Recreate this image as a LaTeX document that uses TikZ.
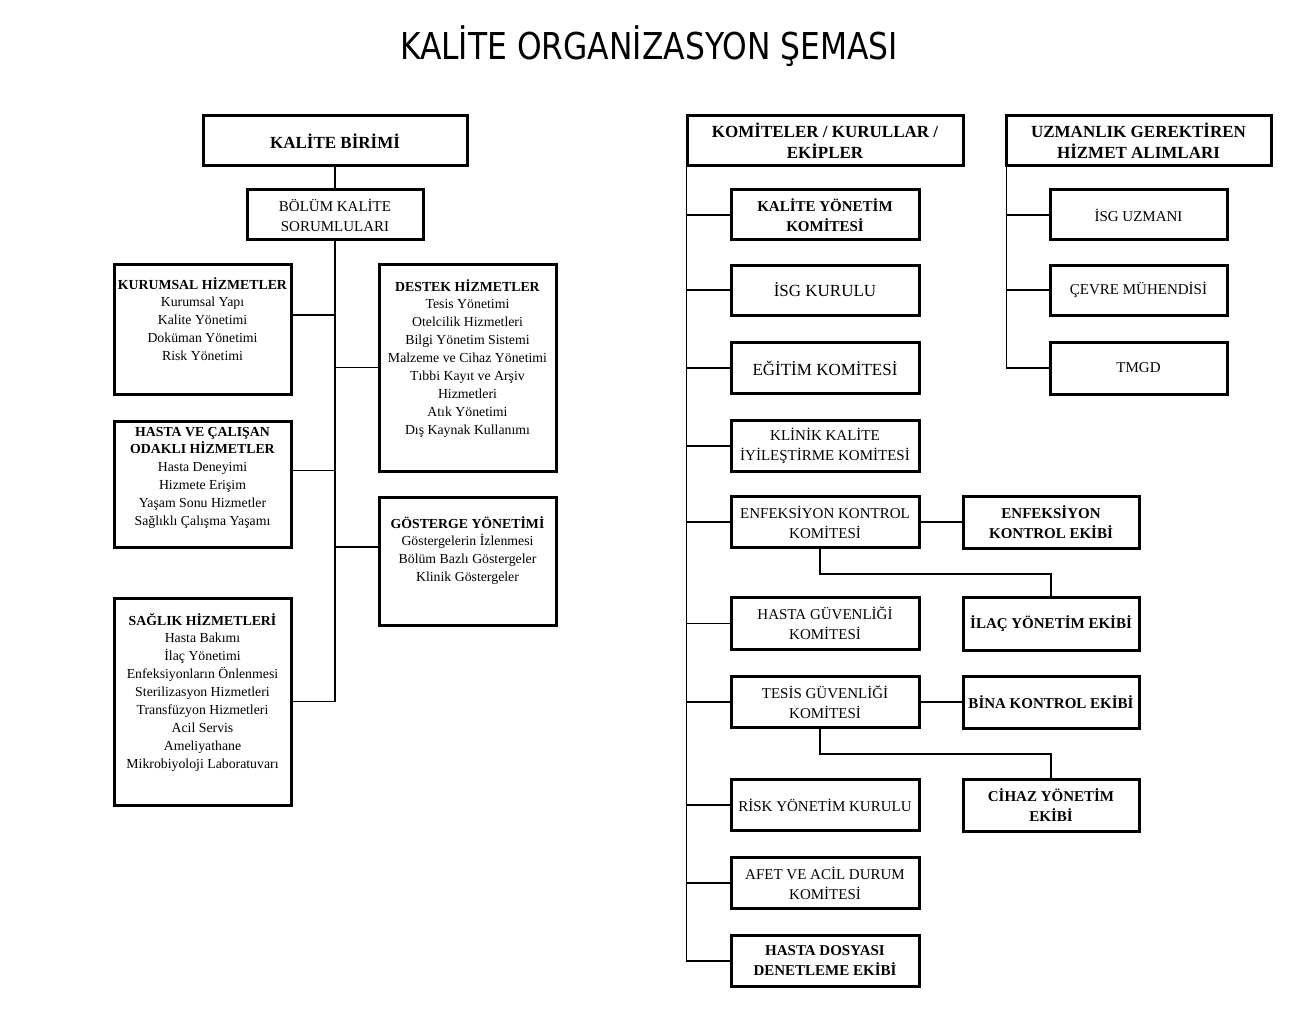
\documentclass[tikz,border=0pt]{standalone}
\usepackage{fontspec}
\usepackage{graphicx}
\setmainfont{Liberation Serif}
\newfontfamily\titlefont{DejaVu Sans}
\tikzset{
  bx/.style={draw, line width=3pt, inner sep=0pt, align=center},
  con/.style={line width=1.6pt},
  fa/.style={font=\fontsize{15}{20}\selectfont},
  fab/.style={font=\fontsize{15}{20}\selectfont\bfseries},
  fb/.style={font=\fontsize{17}{21}\selectfont},
  fbb/.style={font=\fontsize{17}{21}\selectfont\bfseries},
  fl/.style={font=\fontsize{13.8}{17.9}\selectfont},
  cbox/.style={bx, fa, minimum width=188, minimum height=51},
  tbox/.style={bx, fab, minimum width=176, minimum height=52},
  ubox/.style={bx, fa, minimum width=177, minimum height=51}
}
\newcommand{\ltext}[3]{\parbox[c][#1pt][t]{177pt}{\centering\rule{0pt}{#2pt}#3}}
\begin{document}
\begin{tikzpicture}[x=1pt,y=-1pt]
\useasboundingbox (0,0) rectangle (1300,1016);

% title
\node[anchor=base, inner sep=0pt] (title) at (649,60)
  {\resizebox{498pt}{\height}{\fontsize{37}{37}\titlefont KALİTE ORGANİZASYON ŞEMASI}};

% left column
\node[bx, fbb, minimum width=264, minimum height=50] (kb) at (335,141) {KALİTE BİRİMİ};
\node[bx, fa, minimum width=176, minimum height=50] (bks) at (335,215) {BÖLÜM KALİTE\\SORUMLULARI};

\node[bx, fl, minimum width=177, minimum height=130] (kur) at (202.5,329)
  {\ltext{130}{25}{\textbf{KURUMSAL HİZMETLER}\\Kurumsal Yapı\\Kalite Yönetimi\\Doküman Yönetimi\\Risk Yönetimi}};
\node[bx, fl, minimum width=177, minimum height=207] (des) at (467.5,367.5)
  {\ltext{207}{27}{\textbf{DESTEK HİZMETLER}\\Tesis Yönetimi\\Otelcilik Hizmetleri\\Bilgi Yönetim Sistemi\\Malzeme ve Cihaz Yönetimi\\Tıbbi Kayıt ve Arşiv\\Hizmetleri\\Atık Yönetimi\\Dış Kaynak Kullanımı}};
\node[bx, fl, minimum width=177, minimum height=126] (has) at (202.5,484)
  {\ltext{126}{15}{\textbf{HASTA VE ÇALIŞAN}\\\textbf{ODAKLI HİZMETLER}\\Hasta Deneyimi\\Hizmete Erişim\\Yaşam Sonu Hizmetler\\Sağlıklı Çalışma Yaşamı}};
\node[bx, fl, minimum width=177, minimum height=128] (gos) at (467.5,561)
  {\ltext{128}{31}{\textbf{GÖSTERGE YÖNETİMİ}\\Göstergelerin İzlenmesi\\Bölüm Bazlı Göstergeler\\Klinik Göstergeler}};
\node[bx, fl, minimum width=177, minimum height=207] (sag) at (202.5,701.5)
  {\ltext{207}{27}{\textbf{SAĞLIK HİZMETLERİ}\\Hasta Bakımı\\İlaç Yönetimi\\Enfeksiyonların Önlenmesi\\Sterilizasyon Hizmetleri\\Transfüzyon Hizmetleri\\Acil Servis\\Ameliyathane\\Mikrobiyoloji Laboratuvarı}};

% left connectors
\draw[con] (kb.south) -- (bks.north);
\coordinate (lv) at (bks.south);
\draw[con] (lv) -- (lv |- sag.east) -- (sag.east);
\coordinate (kurc) at ([yshift=14pt]kur.east);
\coordinate (hasc) at ([yshift=13.5pt]has.east);
\coordinate (gosc) at ([yshift=14pt]gos.west);
\draw[con] (kurc) -- (kurc -| lv);
\draw[con] (hasc) -- (hasc -| lv);
\draw[con] (des.west) -- (des.west -| lv);
\draw[con] (gosc) -- (gosc -| lv);

% committees column
\node[bx, fbb, minimum width=276, minimum height=50] (kom) at (825,141) {KOMİTELER / KURULLAR /\\EKİPLER};
\node[cbox, fab, minimum height=50] (kyk) at (825,215) {KALİTE YÖNETİM\\KOMİTESİ};
\node[cbox, fb, minimum height=50] (isg) at (825,290) {İSG KURULU};
\node[cbox, fb] (egt) at (825,368) {EĞİTİM KOMİTESİ};
\node[cbox] (kln) at (825,446) {KLİNİK KALİTE\\İYİLEŞTİRME KOMİTESİ};
\node[cbox] (enk) at (825,522) {ENFEKSİYON KONTROL\\KOMİTESİ};
\node[cbox, minimum height=52] (hgk) at (825,623.5) {HASTA GÜVENLİĞİ\\KOMİTESİ};
\node[cbox] (tgk) at (825,702) {TESİS GÜVENLİĞİ\\KOMİTESİ};
\node[cbox] (ryk) at (825,805) {RİSK YÖNETİM KURULU};
\node[cbox] (aak) at (825,883) {AFET VE ACİL DURUM\\KOMİTESİ};
\node[cbox, fab] (hdd) at (825,961) {HASTA DOSYASI\\DENETLEME EKİBİ};

% teams
\node[tbox] (enke) at (1051,522) {ENFEKSİYON\\KONTROL EKİBİ};
\node[tbox, minimum height=53] (ilac) at (1051,623.5) {İLAÇ YÖNETİM EKİBİ};
\node[tbox] (bina) at (1051,702) {BİNA KONTROL EKİBİ};
\node[tbox] (cihaz) at (1051,805) {CİHAZ YÖNETİM\\EKİBİ};

% committee connectors
\coordinate (kv) at ([xshift=1pt]kom.south west);
\draw[con] (kv) |- (hdd.west);
\foreach \n in {kyk,isg,egt,kln,enk,hgk,tgk,ryk,aak}
  \draw[con] (\n.west) -- (\n.west -| kv);
\draw[con] (enk.east) -- (enke.west);
\draw[con] ([xshift=-5pt]enk.south) -- ++(0,25) -| (ilac.north);
\draw[con] (tgk.east) -- (bina.west);
\draw[con] ([xshift=-5pt]tgk.south) -- ++(0,25) -| (cihaz.north);

% specialist services
\node[bx, fbb, minimum width=265, minimum height=50] (uzm) at (1138.5,141) {UZMANLIK GEREKTİREN\\HİZMET ALIMLARI};
\node[ubox, minimum height=50] (isgu) at (1138.5,215) {İSG UZMANI};
\node[ubox, minimum height=50] (cevre) at (1138.5,290) {ÇEVRE MÜHENDİSİ};
\node[ubox, minimum height=52] (tmgd) at (1138.5,368) {TMGD};
\coordinate (uv) at ([xshift=2pt]uzm.south west);
\draw[con] (uv) |- (tmgd.west);
\draw[con] (isgu.west) -- (isgu.west -| uv);
\draw[con] (cevre.west) -- (cevre.west -| uv);
\end{tikzpicture}
\end{document}
